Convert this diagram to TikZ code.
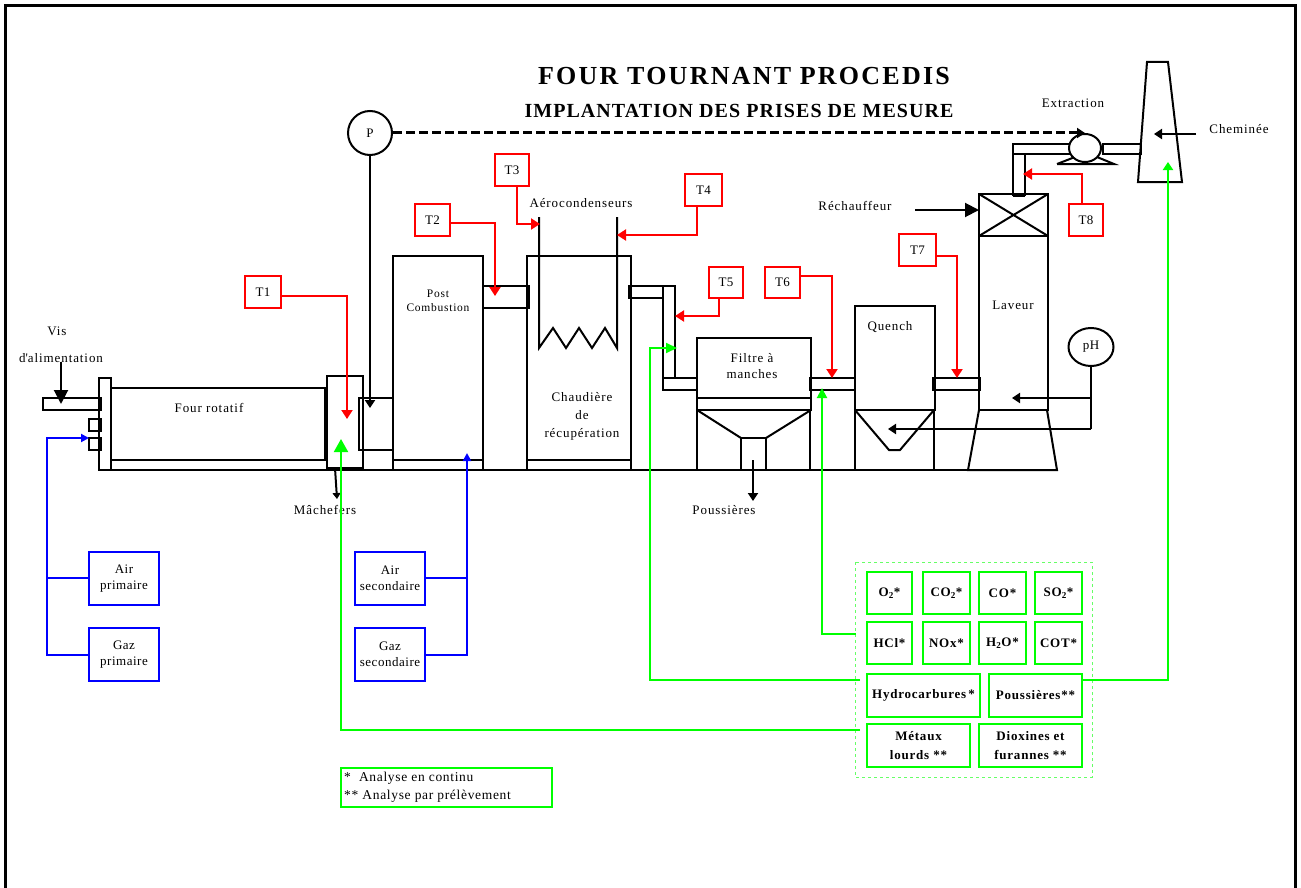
\documentclass[tikz,border=0pt]{standalone}
\usepackage{fontspec}
\setmainfont{Liberation Serif}
\usetikzlibrary{arrows.meta,calc,shapes.geometric}
\newcommand{\bx}[7][]{% style, name, x1,y1,x2,y2, text
  \node[#1,inner sep=0pt,outer sep=0pt,align=center,minimum width={(#5-#3)*1pt},minimum height={(#6-#4)*1pt}] (#2) at ({(#3+#5)/2},{(#4+#6)/2}) {#7};}
\tikzset{
  x=1pt,y=-1pt,
  txt/.style={inner sep=0pt,align=center,font=\fontsize{13}{16}\selectfont\addfontfeature{LetterSpace=7}},
  tight/.style={inner sep=0pt,align=center,font=\fontsize{13}{16}\selectfont\addfontfeature{LetterSpace=4}},
  eq/.style={draw=black,line width=2pt,fill=none},
  pipe/.style={draw=black,line width=2pt,line join=miter},
  tbox/.style={draw=red,line width=2pt,tight},
  gbox/.style={draw=green,line width=2pt,align=center,font=\fontsize{13}{19}\selectfont\bfseries\addfontfeature{LetterSpace=6}},
  bbox/.style={draw=blue,line width=2pt,tight},
  redl/.style={draw=red,line width=2pt,-{Triangle[width=11pt,length=9pt]}},
  bluel/.style={draw=blue,line width=2pt,-{Triangle[width=8pt,length=8pt]}},
  bluen/.style={draw=blue,line width=2pt},
  greenl/.style={draw=green,line width=2pt},
  blackl/.style={draw=black,line width=2pt,-{Triangle[width=10pt,length=8pt]}},
  blackb/.style={draw=black,line width=2pt,-{Triangle[width=14pt,length=14pt]}},
}
\begin{document}
\begin{tikzpicture}
\useasboundingbox (0,0) rectangle (1301,888);
% outer frame
\draw[line width=3pt] (5.5,895) -- (5.5,5.5) -- (1295,5.5) -- (1295,895);
% titles
\node[inner sep=0pt,font=\fontsize{26}{30}\selectfont\bfseries\addfontfeature{LetterSpace=8.6}] (title) at (744,76) {FOUR TOURNANT PROCEDIS};
\node[inner sep=0pt,font=\fontsize{20}{24}\selectfont\bfseries\addfontfeature{LetterSpace=5.3}] (subtitle) at (739,111) {IMPLANTATION DES PRISES DE MESURE};
% baseline
\draw[pipe] (99,470) -- (1057,470);
% furnace
\bx[eq]{flange}{99}{378}{111}{470}{}
\bx[eq]{feed}{43}{398}{101}{410}{}
\bx[eq]{sq1}{89}{419}{101}{431}{}
\bx[eq]{sq2}{89}{438}{101}{450}{}
\bx[eq]{four}{111}{388}{325}{460}{}
\node[txt] (fourt) at (209,408) {Four rotatif};
\bx[eq]{boxa}{327}{376}{363}{468}{}
\bx[eq]{boxb}{359}{398}{393}{450}{}
\draw[pipe] (363,450) -- (363,470);
% post combustion
\bx[eq]{post}{393}{256}{483}{470}{}
\draw[pipe] (393,460) -- (483,460);
\node[txt,font=\fontsize{11.5}{14}\selectfont\addfontfeature{LetterSpace=6.5}] (postt) at (438,301) {Post\\Combustion};
\bx[eq]{pipea}{483}{286}{529}{308}{}
% chaudiere
\bx[eq]{chaud}{527}{256}{631}{470}{}
\draw[pipe] (527,460) -- (631,460);
\node[txt,font=\fontsize{13}{18}\selectfont\addfontfeature{LetterSpace=7}] (chaudt) at (582,416) {Chaudière\\de\\récupération};
\draw[pipe] (539,217) -- (539,348) -- (553,328) -- (566,348) -- (579,328) -- (592,348) -- (605,328) -- (617,348) -- (617,217);
\node[txt] (aero) at (581,203) {Aérocondenseurs};
% ducts to filter
\bx[eq]{pipeb}{629}{286}{663}{298}{}
\bx[eq]{pipec}{663}{286}{675}{378}{}
\bx[eq]{piped}{663}{378}{697}{390}{}
% filter
\bx[eq]{filtre}{697}{338}{811}{410}{}
\draw[pipe] (697,398) -- (811,398);
\node[txt] (filtret) at (752,366) {Filtre à\\manches};
\draw[pipe] (697,410) -- (697,470) (810,410) -- (810,470);
\draw[pipe] (697,410) -- (741,438) (811,410) -- (766,438);
\bx[eq]{hopper}{741}{438}{766}{470}{}
\bx[eq]{pipee}{810}{378}{855}{390}{}
% quench
\bx[eq]{quench}{855}{306}{935}{410}{}
\node[txt] (quencht) at (890,327) {Quench};
\draw[pipe] (855,410) -- (855,470) (934,410) -- (934,470);
\draw[pipe] (855,410) -- (889,450) -- (900,450) -- (934,410);
\bx[eq]{pipef}{933}{378}{980}{390}{}
% laveur
\bx[eq]{laveur}{979}{236}{1048}{410}{}
\node[txt] (laveurt) at (1013,305) {Laveur};
\bx[eq]{rech}{979}{194}{1048}{236}{}
\draw[pipe] (rech.north west) -- (rech.south east) (rech.north east) -- (rech.south west);
\draw[pipe] (979,410) -- (968,470) -- (1057,470) -- (1047,410);
\draw[pipe] (1013,196) -- (1013,144) -- (1070,144) (1025,196) -- (1025,154) -- (1070,154) (1013,196) -- (1025,196) (1013,154) -- (1025,154);
% fan
\draw[pipe] (1057,164) -- (1114,164) -- (1097,157) (1057,164) -- (1075,157);
\node[draw=black,line width=2pt,ellipse,minimum width=32pt,minimum height=28pt,inner sep=0pt,fill=white] (fan) at (1085,148) {};
\bx[eq]{pipeg}{1103}{144}{1141}{154}{}
% chimney
\draw[pipe] (1147,62) -- (1168,62) -- (1182,182) -- (1138,182) -- cycle;
\coordinate (chimtip) at (1154,134);
\coordinate (chimfrom) at (1196,134);
\draw[blackl] (chimfrom) -- (chimtip);
\node[txt] (chemt) at (1239,129) {Cheminée};
\node[txt] (extr) at (1073,103) {Extraction};
% P
\node[draw=black,line width=2pt,circle,minimum size=44pt,inner sep=0pt,tight] (P) at (370,133) {P};
\coordinate (ptip) at (370,408);
\draw[blackl] (P.south) -- (ptip);
\coordinate (ftip) at (1085,133);
\draw[blackl,line width=3pt,dash pattern=on 9pt off 4pt] (P.east) -- (ftip);
% pH
\node[draw=black,line width=2pt,ellipse,minimum width=45pt,minimum height=38pt,inner sep=0pt,tight] (pH) at (1091,347) {pH};
\coordinate (phj) at (1091,429);
\coordinate (phk) at (1091,398);
\coordinate (pha) at (1012,398);
\coordinate (phb) at (888,429);
\draw[pipe] (pH.south) -- (phj);
\draw[blackl] (phk) -- (pha);
\draw[blackl] (phj) -- (phb);
% reheater
\node[txt] (recht) at (855,206) {Réchauffeur};
\coordinate (rf) at (915,210);
\draw[blackb] (rf) -- (rech.west |- rf);
% other black labels
\node[txt] (vis) at (57,331) {Vis};
\node[txt] (alim) at (61,358) {d\textquotesingle alimentation};
\draw[blackb] (61,362) -- (61,404);
\node[txt] (mach) at (325,510) {Mâchefers};
\draw[blackl,-{Triangle[width=8pt,length=6pt]}] ([xshift=-10pt]boxa.south) -- (337,499);
\node[txt] (pouss) at (724,510) {Poussières};
\draw[blackl] (753,460) -- (753,501);
% T boxes
\bx[tbox]{T1}{245}{276}{281}{308}{T1}
\bx[tbox]{T2}{415}{204}{450}{236}{T2}
\bx[tbox]{T3}{495}{154}{529}{186}{T3}
\bx[tbox]{T4}{685}{174}{722}{206}{T4}
\bx[tbox]{T5}{709}{267}{743}{298}{T5}
\bx[tbox]{T6}{765}{267}{800}{298}{T6}
\bx[tbox]{T7}{899}{234}{936}{266}{T7}
\bx[tbox]{T8}{1069}{204}{1103}{236}{T8}
\coordinate (t1e) at (347,419);
\coordinate (t2e) at (495,296);
\coordinate (t3e) at (540,224);
\coordinate (t4e) at (617,235);
\coordinate (t5e) at (675,316);
\coordinate (t6e) at (832,378);
\coordinate (t7e) at (957,378);
\coordinate (t8e) at (1023,174);
\draw[redl] ([yshift=-4pt]T1.east) -| (t1e);
\draw[redl] ([yshift=-3pt]T2.east) -| (t2e);
\draw[redl] (517,186) |- (t3e);
\draw[redl] (697,206) |- (t4e);
\draw[redl] (719,298) |- (t5e);
\draw[redl] ([yshift=6.5pt]T6.east) -| (t6e);
\draw[redl] ([yshift=-6pt]T7.east) -| (t7e);
\draw[redl] (1082,204) |- (t8e);
% blue boxes
\bx[bbox]{ap}{89}{552}{159}{605}{Air\\primaire}
\bx[bbox]{gp}{89}{628}{159}{681}{Gaz\\primaire}
\bx[bbox]{as}{355}{552}{425}{605}{Air\\secondaire}
\bx[bbox]{gs}{355}{628}{425}{681}{Gaz\\secondaire}
\coordinate (bl1) at (47,578);
\coordinate (bl2) at (47,655);
\coordinate (bl3) at (47,438);
\coordinate (br1) at (467,578);
\coordinate (br2) at (467,655);
\coordinate (br3) at (467,453);
\draw[bluen] (ap.west |- bl1) -- (bl1);
\draw[bluel] (gp.west |- bl2) -- (bl2) -- (bl3) -- (sq2.west |- bl3);
\draw[bluen] (as.east |- br1) -- (br1);
\draw[bluel] (gs.east |- br2) -- (br2) -- (br3);
% green panel
\draw[draw=green!60!white,line width=0.6pt,dashed] (855,562) rectangle (1092,777);
\bx[gbox]{o2}{867}{572}{912}{614}{O\textsubscript{2}*}
\bx[gbox]{co2}{923}{572}{970}{614}{CO\textsubscript{2}*}
\bx[gbox]{co}{979}{572}{1026}{614}{CO*}
\bx[gbox]{so2}{1035}{572}{1082}{614}{SO\textsubscript{2}*}
\bx[gbox]{hcl}{867}{622}{912}{664}{HCl*}
\bx[gbox]{nox}{923}{622}{970}{664}{NOx*}
\bx[gbox]{h2o}{979}{622}{1026}{664}{H\textsubscript{2}O*}
\bx[gbox]{cot}{1035}{622}{1082}{664}{COT*}
\bx[gbox]{hc}{867}{674}{980}{717}{Hydrocarbures\,*}
\bx[gbox]{pou}{989}{674}{1082}{717}{Poussières**}
\bx[gbox]{met}{867}{724}{970}{767}{Métaux\\lourds **}
\bx[gbox]{dio}{979}{724}{1082}{767}{Dioxines et\\furannes **}
\coordinate (g1) at (822,388);
\coordinate (g1s) at (856,634);
\coordinate (g2) at (650,348);
\coordinate (g2s) at (860,680);
\coordinate (g2t) at (677,348);
\coordinate (g3) at (341,439);
\coordinate (g3s) at (860,730);
\coordinate (g4) at (1168,162);
\coordinate (g4s) at (1083,680);
\draw[greenl,-{Triangle[width=10pt,length=10pt]}] (g1s) -| (g1);
\draw[greenl,-{Triangle[width=10pt,length=11pt]}] (g2s) -| (g2) -- (g2t);
\draw[greenl,-{Triangle[width=14pt,length=13pt]}] (g3s) -| (g3);
\draw[greenl,-{Triangle[width=10pt,length=8pt]}] (g4s) -| (g4);
% legend
\bx[draw=green,line width=2pt]{leg}{341}{768}{552}{807}{}
\node[inner sep=0pt,anchor=north west,align=left,font=\fontsize{13.5}{18}\selectfont\addfontfeature{LetterSpace=5}] (legt) at (344,772) {*\ \ Analyse en continu\\** Analyse par prélèvement};
\end{tikzpicture}
\end{document}
